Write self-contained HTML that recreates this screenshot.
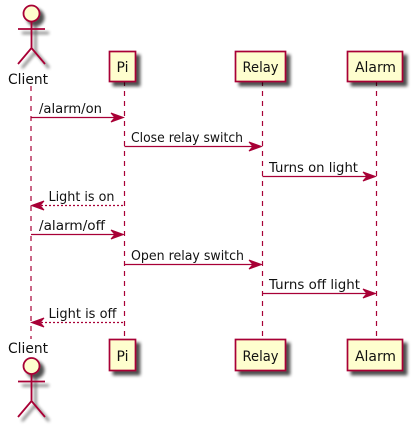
<!DOCTYPE html>
<html>
<head>
<meta charset="utf-8">
<title>Sequence diagram</title>
<style>
html,body{margin:0;padding:0;background:#fff;}
svg{display:block;}
text{font-family:"DejaVu Sans","Liberation Sans",sans-serif;fill:#111;}
.msg{font-size:13.5px;}
.lbl{font-size:14.5px;}
.life{stroke:#A80036;stroke-width:1.2;stroke-dasharray:5,5;fill:none;}
.box{fill:#FEFECE;stroke:#A80036;stroke-width:1.7;}
.arrow{stroke:#A80036;stroke-width:1.2;fill:none;}
.head{fill:#A80036;stroke:#A80036;stroke-width:1;}
.actor{fill:none;stroke:#A80036;stroke-width:1.8;}
.actor-head{fill:#FEFECE;stroke:#A80036;stroke-width:1.8;}
</style>
</head>
<body>
<svg xmlns="http://www.w3.org/2000/svg" width="412" height="427" viewBox="0 0 412 427">
<defs>
<filter id="shadow" x="-30%" y="-30%" width="170%" height="170%">
<feGaussianBlur in="SourceAlpha" stdDeviation="1.6" result="b"/>
<feOffset in="b" dx="4" dy="4" result="o"/>
<feComponentTransfer in="o" result="c"><feFuncA type="linear" slope="0.7"/></feComponentTransfer>
<feMerge><feMergeNode in="c"/><feMergeNode in="SourceGraphic"/></feMerge>
</filter>
</defs>

<line class="life" x1="31" y1="86" x2="31" y2="339"/>
<line class="life" x1="124.5" y1="81" x2="124.5" y2="339"/>
<line class="life" x1="262.5" y1="81" x2="262.5" y2="339"/>
<line class="life" x1="376.5" y1="81" x2="376.5" y2="339"/>

<g>
<g filter="url(#shadow)">
<circle class="actor-head" cx="31.5" cy="13.5" r="8"/>
<path class="actor" d="M31.5 21.5V48M18 29H45M31.5 48L18 64M31.5 48L45 64"/>
</g>
<text class="lbl" x="8" y="84" textLength="40" lengthAdjust="spacingAndGlyphs">Client</text>
</g>

<g>
<rect class="box" x="109.5" y="51.5" width="26" height="30" filter="url(#shadow)"/>
<text class="lbl" x="116.5" y="72" textLength="12" lengthAdjust="spacingAndGlyphs">Pi</text>
</g>
<g>
<rect class="box" x="235.5" y="51.5" width="50" height="30" filter="url(#shadow)"/>
<text class="lbl" x="242.5" y="72" textLength="36" lengthAdjust="spacingAndGlyphs">Relay</text>
</g>
<g>
<rect class="box" x="347.5" y="51.5" width="55" height="30" filter="url(#shadow)"/>
<text class="lbl" x="355" y="72" textLength="41" lengthAdjust="spacingAndGlyphs">Alarm</text>
</g>

<g>
<line class="arrow" x1="31" y1="117.5" x2="122" y2="117.5"/>
<path class="head" d="M111 113L123.5 117.5L111 122L115 117.5Z"/>
<text class="msg" x="39" y="113" textLength="63" lengthAdjust="spacingAndGlyphs">/alarm/on</text>
</g>
<g>
<line class="arrow" x1="124.5" y1="146.5" x2="260" y2="146.5"/>
<path class="head" d="M249 142L261.5 146.5L249 151L253 146.5Z"/>
<text class="msg" x="131" y="142" textLength="112" lengthAdjust="spacingAndGlyphs">Close relay switch</text>
</g>
<g>
<line class="arrow" x1="262.5" y1="176.5" x2="374" y2="176.5"/>
<path class="head" d="M363 172L375.5 176.5L363 181L367 176.5Z"/>
<text class="msg" x="269" y="172" textLength="89" lengthAdjust="spacingAndGlyphs">Turns on light</text>
</g>
<g>
<line class="arrow" x1="33" y1="205.5" x2="124.5" y2="205.5" stroke-dasharray="2,2"/>
<path class="head" d="M44 201L31.5 205.5L44 210L40 205.5Z"/>
<text class="msg" x="48.5" y="201" textLength="66" lengthAdjust="spacingAndGlyphs">Light is on</text>
</g>
<g>
<line class="arrow" x1="31" y1="234.5" x2="122" y2="234.5"/>
<path class="head" d="M111 230L123.5 234.5L111 239L115 234.5Z"/>
<text class="msg" x="39" y="230" textLength="66" lengthAdjust="spacingAndGlyphs">/alarm/off</text>
</g>
<g>
<line class="arrow" x1="124.5" y1="264.5" x2="260" y2="264.5"/>
<path class="head" d="M249 260L261.5 264.5L249 269L253 264.5Z"/>
<text class="msg" x="131" y="260" textLength="113" lengthAdjust="spacingAndGlyphs">Open relay switch</text>
</g>
<g>
<line class="arrow" x1="262.5" y1="293.5" x2="374" y2="293.5"/>
<path class="head" d="M363 289L375.5 293.5L363 298L367 293.5Z"/>
<text class="msg" x="269" y="289" textLength="91" lengthAdjust="spacingAndGlyphs">Turns off light</text>
</g>
<g>
<line class="arrow" x1="33" y1="322.5" x2="124.5" y2="322.5" stroke-dasharray="2,2"/>
<path class="head" d="M44 318L31.5 322.5L44 327L40 322.5Z"/>
<text class="msg" x="48.5" y="318" textLength="68" lengthAdjust="spacingAndGlyphs">Light is off</text>
</g>

<g>
<text class="lbl" x="8" y="353" textLength="40" lengthAdjust="spacingAndGlyphs">Client</text>
<g filter="url(#shadow)">
<circle class="actor-head" cx="31.5" cy="366" r="8"/>
<path class="actor" d="M31.5 374V401M18 381.5H45M31.5 401L18 417M31.5 401L45 417"/>
</g>
</g>
<g>
<rect class="box" x="109.5" y="339.5" width="26" height="31" filter="url(#shadow)"/>
<text class="lbl" x="116.5" y="361" textLength="12" lengthAdjust="spacingAndGlyphs">Pi</text>
</g>
<g>
<rect class="box" x="235.5" y="339.5" width="50" height="31" filter="url(#shadow)"/>
<text class="lbl" x="242.5" y="361" textLength="36" lengthAdjust="spacingAndGlyphs">Relay</text>
</g>
<g>
<rect class="box" x="347.5" y="339.5" width="55" height="31" filter="url(#shadow)"/>
<text class="lbl" x="355" y="361" textLength="41" lengthAdjust="spacingAndGlyphs">Alarm</text>
</g>
</svg>
</body>
</html>
